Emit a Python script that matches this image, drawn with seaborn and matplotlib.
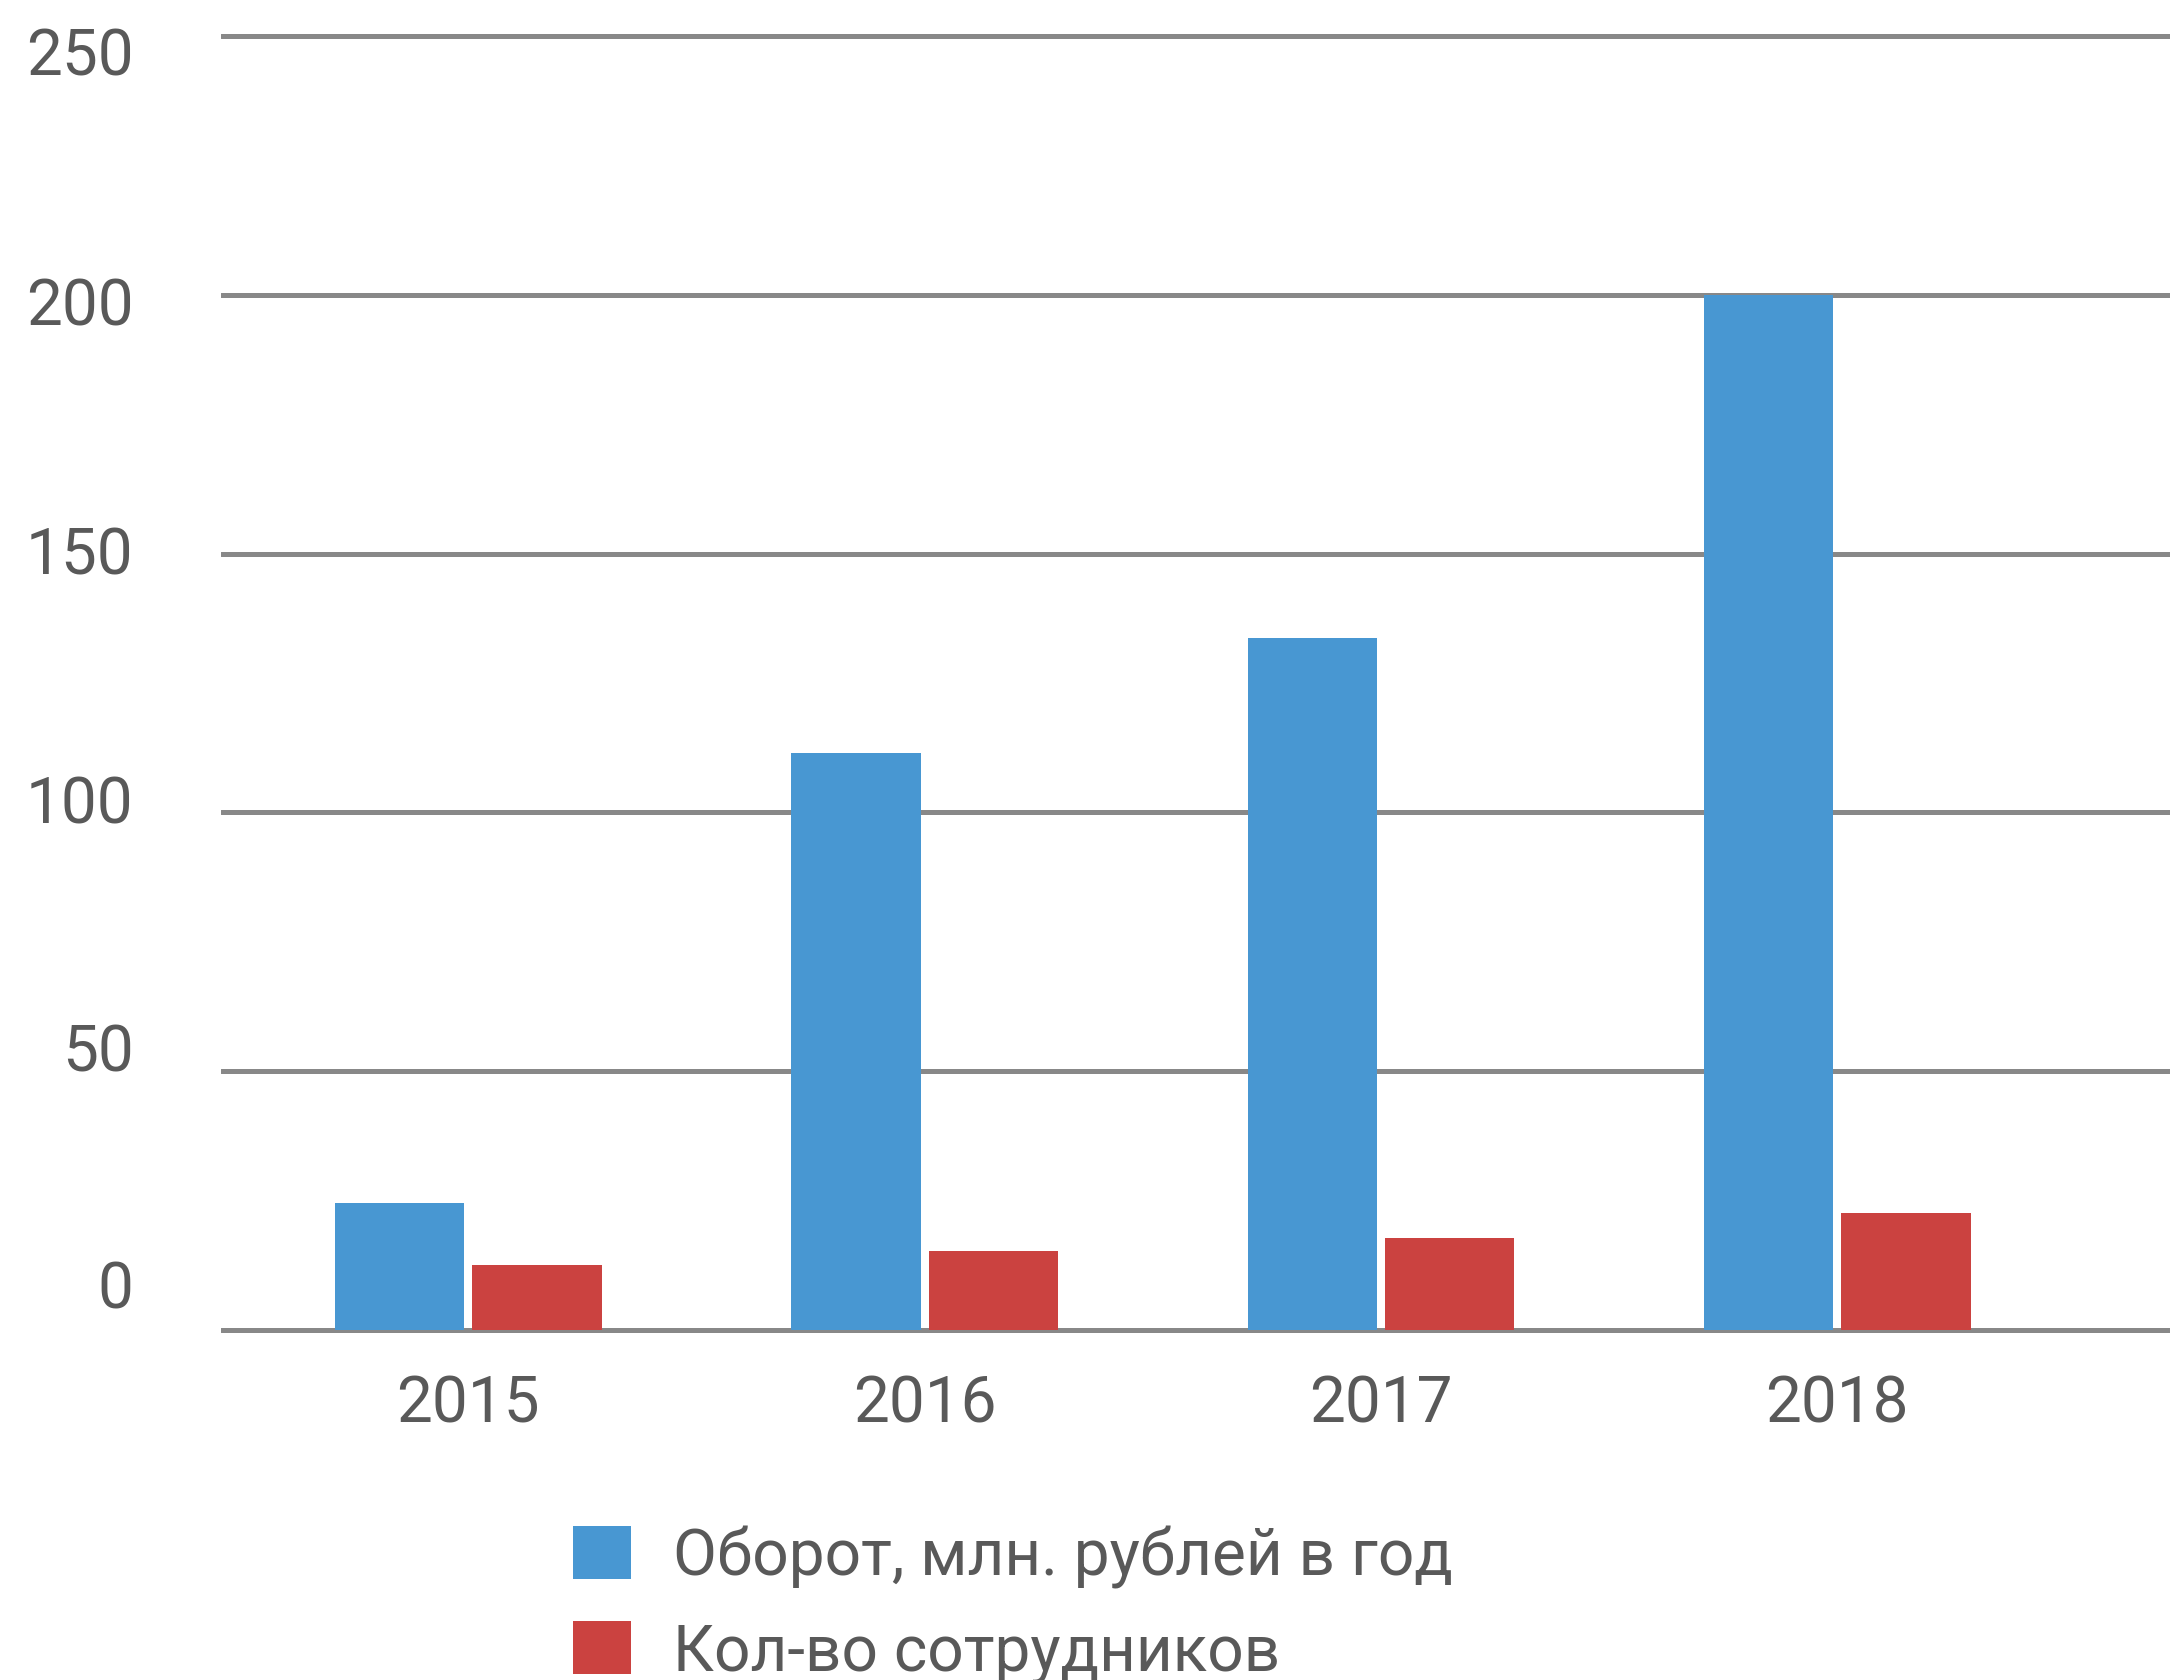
import matplotlib
matplotlib.use("Agg")
import matplotlib.pyplot as plt
import matplotlib.transforms as mtransforms
import numpy as np
import pandas as pd
import seaborn as sns

# data
years = ["2015", "2016", "2017", "2018"]
turnover = [24.5, 111.5, 133.7, 200.0]     # Оборот, млн. рублей в год
staff = [12.5, 15.2, 17.8, 22.6]           # Кол-во сотрудников
series_names = ["Оборот, млн. рублей в год", "Кол-во сотрудников"]
y_ticks = [0, 50, 100, 150, 200, 250]

df = pd.DataFrame({
    "year": years * 2,
    "series": [series_names[0]] * len(years) + [series_names[1]] * len(years),
    "value": turnover + staff,
})

sns.set_style("white")
plt.rcParams["font.family"] = ["Roboto", "DejaVu Sans"]
text_color = "#595959"
grid_color = "#888888"

fig = plt.figure(figsize=(21.7, 16.81), dpi=100)
ax = fig.add_axes([221 / 2170, 1 - 1336 / 1681, 1 - 221 / 2170, (1336 - 32) / 1681])

sns.barplot(data=df, x="year", y="value", hue="series", hue_order=series_names,
            palette={series_names[0]: "#4897D2", series_names[1]: "#CB4240"},
            width=0.603, gap=0.06, saturation=1, linewidth=0, ax=ax)

ax.set_ylim(-1, 251)
ax.set_xlim(-0.542, 3.729)
ax.set_yticks(y_ticks)
ax.set_axisbelow(True)
ax.yaxis.grid(True, color=grid_color, linewidth=3.6)
ax.xaxis.grid(False)
for s in ax.spines.values():
    s.set_visible(False)
ax.set_xlabel("")
ax.set_ylabel("")
ax.tick_params(axis="both", length=0, labelsize=46, labelcolor=text_color)
ax.tick_params(axis="x", pad=27)
ax.tick_params(axis="y", pad=63)

# the y labels in the original sit a little off their gridlines (points, up is +)
label_shift = [34, 18, 10, 3, -4, -10]
for lab, dy in zip(ax.get_yticklabels(), label_shift):
    lab.set_transform(lab.get_transform() + mtransforms.ScaledTranslation(0, dy / 72, fig.dpi_scale_trans))

handles, labels = ax.get_legend_handles_labels()
ax.legend(handles, labels, loc="upper left",
          bbox_to_anchor=(573 / 2170, 1 - 1526 / 1681), bbox_transform=fig.transFigure,
          frameon=False, fontsize=46, labelcolor=text_color,
          handlelength=0.91, handleheight=0.91, handletextpad=0.66,
          labelspacing=0.51, borderpad=0, borderaxespad=0)

fig.savefig("out.png", dpi=100)
